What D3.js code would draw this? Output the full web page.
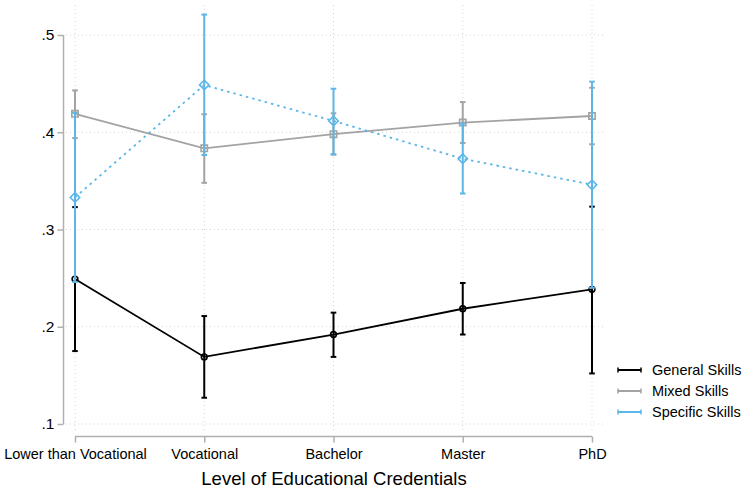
<!DOCTYPE html>
<head>
    <meta charset="utf-8">
    <title>Skills by educational credentials</title>
    <style>
        body { margin: 0; background: #fff; }
        text { font-family: Arial, "Liberation Sans", sans-serif; }
    </style>
</head>
<body>
<svg width="746" height="491"></svg>

<script src="https://d3js.org/d3.v7.min.js"></script>
<script>

    // categories along the x axis
    var levels = ["Lower than Vocational", "Vocational", "Bachelor", "Master", "PhD"];
    var yTicks = [0.1, 0.2, 0.3, 0.4, 0.5];

    // point estimates and confidence bounds
    var generalEst  = [0.249, 0.169, 0.192, 0.2185, 0.2385];
    var generalLow  = [0.175, 0.127, 0.169, 0.192, 0.152];
    var generalHigh = [0.323, 0.211, 0.2145, 0.245, 0.3235];

    var mixedEst  = [0.419, 0.3835, 0.398, 0.410, 0.4167];
    var mixedLow  = [0.394, 0.348, 0.377, 0.389, 0.3876];
    var mixedHigh = [0.443, 0.4185, 0.4195, 0.431, 0.4458];

    var specificEst  = [0.333, 0.4486, 0.4116, 0.3728, 0.346];
    var specificLow  = [0.246, 0.3766, 0.3773, 0.337, 0.240];
    var specificHigh = [0.420, 0.521, 0.4448, 0.409, 0.452];

    var seriesNames = ["General Skills", "Mixed Skills", "Specific Skills"];

    var svg = d3.select("svg");

    var x = d3.scalePoint().domain(levels).range([75, 592]);
    var y = d3.scaleLinear().domain([0.1, 0.5]).range([424, 35]);

    var series = [
        { name: seriesNames[0], est: generalEst, lo: generalLow, hi: generalHigh, color: "#000000", dash: null, marker: "circle" },
        { name: seriesNames[1], est: mixedEst, lo: mixedLow, hi: mixedHigh, color: "#a3a3a3", dash: null, marker: "square" },
        { name: seriesNames[2], est: specificEst, lo: specificLow, hi: specificHigh, color: "#5cb6e8", dash: "2.5,4", marker: "diamond" }
    ];

    // grid lines
    var grid = svg.append("g").attr("stroke", "#d4d4d4").attr("stroke-width", 1).attr("stroke-dasharray", "1,3");
    grid.selectAll(".hg").data(yTicks).enter().append("line")
        .attr("x1", 66).attr("x2", 603)
        .attr("y1", function(d) { return y(d); })
        .attr("y2", function(d) { return y(d); });
    grid.selectAll(".vg").data(levels).enter().append("line")
        .attr("x1", function(d) { return x(d); })
        .attr("x2", function(d) { return x(d); })
        .attr("y1", 5).attr("y2", 432);

    // y axis
    var yAxis = svg.append("g")
        .attr("transform", "translate(63.5,0)")
        .call(d3.axisLeft(y).tickValues(yTicks).tickSize(6).tickPadding(3)
            .tickFormat(function(d) { return d3.format(".1f")(d).replace(/^0/, ""); }));
    yAxis.select(".domain").attr("stroke", "#b0b0b0").attr("stroke-width", 1.5)
        .attr("d", "M0," + y(0.1) + "V" + y(0.5));
    yAxis.selectAll(".tick line").attr("stroke", "#b0b0b0").attr("stroke-width", 1.5);
    yAxis.selectAll(".tick text").attr("font-size", 15.5).attr("fill", "#000");

    // x axis
    var xAxis = svg.append("g")
        .attr("transform", "translate(0,436.5)")
        .call(d3.axisBottom(x).tickSize(6).tickPadding(6));
    xAxis.select(".domain").attr("stroke", "#b0b0b0").attr("stroke-width", 1.5)
        .attr("d", "M" + x(levels[0]) + ",0H" + x(levels[4]));
    xAxis.selectAll(".tick line").attr("stroke", "#b0b0b0").attr("stroke-width", 1.5);
    xAxis.selectAll(".tick text").attr("font-size", 14.5).attr("fill", "#000");

    svg.append("text")
        .attr("x", 334).attr("y", 485)
        .attr("text-anchor", "middle")
        .attr("font-size", 18.5)
        .text("Level of Educational Credentials");

    // error bars, lines and markers per series
    var capW = 2.8;
    series.forEach(function(s) {
        var g = svg.append("g");
        var idx = d3.range(levels.length);

        g.selectAll(".ci").data(idx).enter().append("line")
            .attr("x1", function(i) { return x(levels[i]); })
            .attr("x2", function(i) { return x(levels[i]); })
            .attr("y1", function(i) { return y(s.lo[i]); })
            .attr("y2", function(i) { return y(s.hi[i]); })
            .attr("stroke", s.color).attr("stroke-width", 2);

        [s.lo, s.hi].forEach(function(arr) {
            g.selectAll(null).data(idx).enter().append("line")
                .attr("x1", function(i) { return x(levels[i]) - capW; })
                .attr("x2", function(i) { return x(levels[i]) + capW; })
                .attr("y1", function(i) { return y(arr[i]); })
                .attr("y2", function(i) { return y(arr[i]); })
                .attr("stroke", s.color).attr("stroke-width", 2);
        });

        var line = d3.line()
            .x(function(i) { return x(levels[i]); })
            .y(function(i) { return y(s.est[i]); });
        g.append("path")
            .attr("d", line(idx))
            .attr("fill", "none")
            .attr("stroke", s.color)
            .attr("stroke-width", 1.8)
            .attr("stroke-dasharray", s.dash);

        var size = s.marker === "circle" ? 26 : s.marker === "square" ? 40 : 45;
        g.selectAll(".pt").data(idx).enter().append("path")
            .attr("transform", function(i) {
                var r = s.marker === "diamond" ? " rotate(45)" : "";
                return "translate(" + x(levels[i]) + "," + y(s.est[i]) + ")" + r;
            })
            .attr("d", d3.symbol().type(s.marker === "circle" ? d3.symbolCircle : d3.symbolSquare).size(size))
            .attr("fill", "none")
            .attr("stroke", s.color)
            .attr("stroke-width", 1.6);
    });

    // legend
    var legend = svg.append("g");
    series.forEach(function(s, i) {
        var ly = 370 + i * 21;
        var row = legend.append("g");
        row.append("line").attr("x1", 618).attr("x2", 641).attr("y1", ly).attr("y2", ly)
            .attr("stroke", s.color).attr("stroke-width", 2);
        [618, 641].forEach(function(cx) {
            row.append("line").attr("x1", cx).attr("x2", cx).attr("y1", ly - 2.5).attr("y2", ly + 2.5)
                .attr("stroke", s.color).attr("stroke-width", 1.5);
        });
        row.append("text").attr("x", 652).attr("y", ly + 5)
            .attr("font-size", 14.5)
            .text(s.name);
    });

</script>
</body>
